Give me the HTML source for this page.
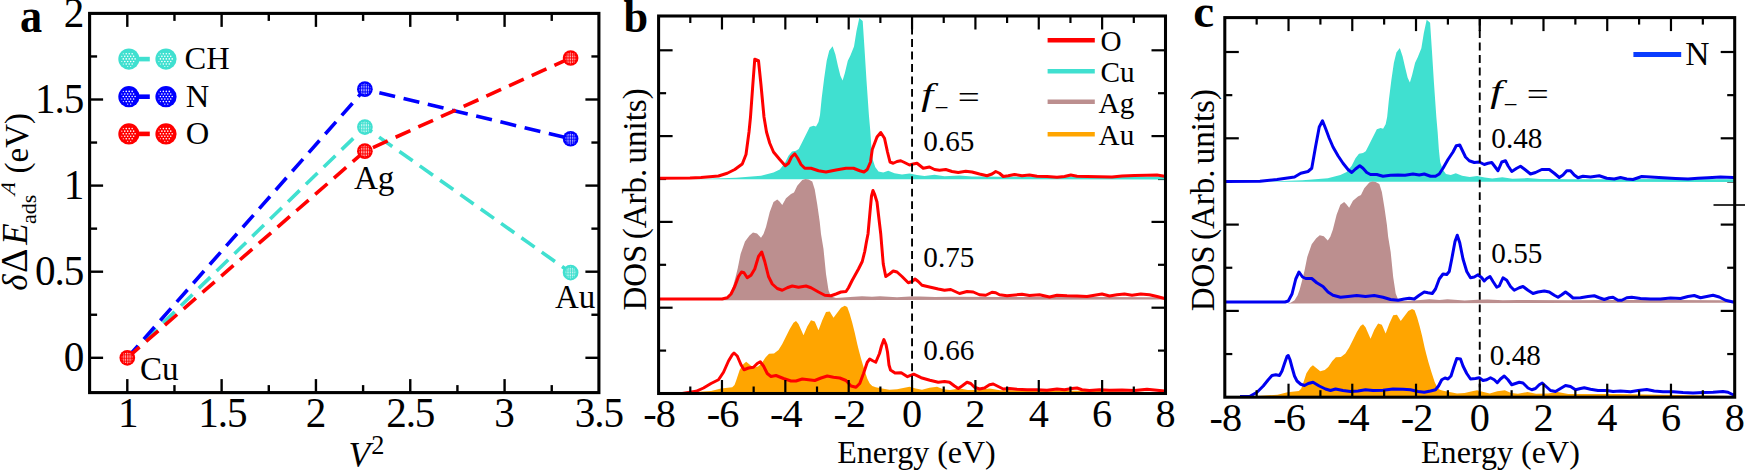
<!DOCTYPE html>
<html lang="en"><head><meta charset="utf-8"><title>Figure: adsorption energy shifts and projected DOS</title>
<style>html,body{margin:0;padding:0;background:#fff}body{width:1745px;height:470px;overflow:hidden}svg{display:block}text{font-family:"Liberation Serif","Times New Roman",Times,serif;fill:#000}</style></head><body>
<svg width="1745" height="470" viewBox="0 0 1745 470">
<rect width="1745" height="470" fill="#fff"/>
<g id="panel-a">
<polyline points="127.3,357.8 364.89,127.05 570.6,272.56" fill="none" stroke="#40E0D0" stroke-width="3.6" stroke-dasharray="16.2 8.7" stroke-dashoffset="0"/>
<polyline points="127.3,357.8 364.89,89.17 570.6,138.76" fill="none" stroke="#0000FF" stroke-width="3.6" stroke-dasharray="16.2 8.7" stroke-dashoffset="0"/>
<polyline points="127.3,357.8 364.89,151.16 570.6,58" fill="none" stroke="#FF0000" stroke-width="3.6" stroke-dasharray="16.2 8.7" stroke-dashoffset="0"/>
<circle cx="364.89" cy="127.05" r="7.85" fill="#40E0D0"/>
<g transform="translate(364.89 127.05)" fill="#fff" fill-opacity="0.95"><circle cx="0" cy="-5.8" r="0.35"/><circle cx="-3.5" cy="-4.35" r="0.35"/><circle cx="-1.75" cy="-4.35" r="0.5"/><circle cx="0" cy="-4.35" r="0.5"/><circle cx="1.75" cy="-4.35" r="0.5"/><circle cx="3.5" cy="-4.35" r="0.35"/><circle cx="-3.5" cy="-2.9" r="0.5"/><circle cx="-1.75" cy="-2.9" r="0.5"/><circle cx="0" cy="-2.9" r="0.5"/><circle cx="1.75" cy="-2.9" r="0.5"/><circle cx="3.5" cy="-2.9" r="0.5"/><circle cx="-5.25" cy="-1.45" r="0.35"/><circle cx="-3.5" cy="-1.45" r="0.5"/><circle cx="-1.75" cy="-1.45" r="0.5"/><circle cx="0" cy="-1.45" r="0.5"/><circle cx="1.75" cy="-1.45" r="0.5"/><circle cx="3.5" cy="-1.45" r="0.5"/><circle cx="5.25" cy="-1.45" r="0.35"/><circle cx="-5.25" cy="0" r="0.35"/><circle cx="-3.5" cy="0" r="0.5"/><circle cx="-1.75" cy="0" r="0.5"/><circle cx="0" cy="0" r="0.5"/><circle cx="1.75" cy="0" r="0.5"/><circle cx="3.5" cy="0" r="0.5"/><circle cx="5.25" cy="0" r="0.35"/><circle cx="-5.25" cy="1.45" r="0.35"/><circle cx="-3.5" cy="1.45" r="0.5"/><circle cx="-1.75" cy="1.45" r="0.5"/><circle cx="0" cy="1.45" r="0.5"/><circle cx="1.75" cy="1.45" r="0.5"/><circle cx="3.5" cy="1.45" r="0.5"/><circle cx="5.25" cy="1.45" r="0.35"/><circle cx="-3.5" cy="2.9" r="0.5"/><circle cx="-1.75" cy="2.9" r="0.5"/><circle cx="0" cy="2.9" r="0.5"/><circle cx="1.75" cy="2.9" r="0.5"/><circle cx="3.5" cy="2.9" r="0.5"/><circle cx="-3.5" cy="4.35" r="0.35"/><circle cx="-1.75" cy="4.35" r="0.5"/><circle cx="0" cy="4.35" r="0.5"/><circle cx="1.75" cy="4.35" r="0.5"/><circle cx="3.5" cy="4.35" r="0.35"/><circle cx="0" cy="5.8" r="0.35"/></g>
<circle cx="570.6" cy="272.56" r="7.85" fill="#40E0D0"/>
<g transform="translate(570.6 272.56)" fill="#fff" fill-opacity="0.95"><circle cx="0" cy="-5.8" r="0.35"/><circle cx="-3.5" cy="-4.35" r="0.35"/><circle cx="-1.75" cy="-4.35" r="0.5"/><circle cx="0" cy="-4.35" r="0.5"/><circle cx="1.75" cy="-4.35" r="0.5"/><circle cx="3.5" cy="-4.35" r="0.35"/><circle cx="-3.5" cy="-2.9" r="0.5"/><circle cx="-1.75" cy="-2.9" r="0.5"/><circle cx="0" cy="-2.9" r="0.5"/><circle cx="1.75" cy="-2.9" r="0.5"/><circle cx="3.5" cy="-2.9" r="0.5"/><circle cx="-5.25" cy="-1.45" r="0.35"/><circle cx="-3.5" cy="-1.45" r="0.5"/><circle cx="-1.75" cy="-1.45" r="0.5"/><circle cx="0" cy="-1.45" r="0.5"/><circle cx="1.75" cy="-1.45" r="0.5"/><circle cx="3.5" cy="-1.45" r="0.5"/><circle cx="5.25" cy="-1.45" r="0.35"/><circle cx="-5.25" cy="0" r="0.35"/><circle cx="-3.5" cy="0" r="0.5"/><circle cx="-1.75" cy="0" r="0.5"/><circle cx="0" cy="0" r="0.5"/><circle cx="1.75" cy="0" r="0.5"/><circle cx="3.5" cy="0" r="0.5"/><circle cx="5.25" cy="0" r="0.35"/><circle cx="-5.25" cy="1.45" r="0.35"/><circle cx="-3.5" cy="1.45" r="0.5"/><circle cx="-1.75" cy="1.45" r="0.5"/><circle cx="0" cy="1.45" r="0.5"/><circle cx="1.75" cy="1.45" r="0.5"/><circle cx="3.5" cy="1.45" r="0.5"/><circle cx="5.25" cy="1.45" r="0.35"/><circle cx="-3.5" cy="2.9" r="0.5"/><circle cx="-1.75" cy="2.9" r="0.5"/><circle cx="0" cy="2.9" r="0.5"/><circle cx="1.75" cy="2.9" r="0.5"/><circle cx="3.5" cy="2.9" r="0.5"/><circle cx="-3.5" cy="4.35" r="0.35"/><circle cx="-1.75" cy="4.35" r="0.5"/><circle cx="0" cy="4.35" r="0.5"/><circle cx="1.75" cy="4.35" r="0.5"/><circle cx="3.5" cy="4.35" r="0.35"/><circle cx="0" cy="5.8" r="0.35"/></g>
<circle cx="364.89" cy="89.17" r="7.85" fill="#0000FF"/>
<g transform="translate(364.89 89.17)" fill="#fff" fill-opacity="0.95"><circle cx="0" cy="-5.8" r="0.35"/><circle cx="-3.5" cy="-4.35" r="0.35"/><circle cx="-1.75" cy="-4.35" r="0.5"/><circle cx="0" cy="-4.35" r="0.5"/><circle cx="1.75" cy="-4.35" r="0.5"/><circle cx="3.5" cy="-4.35" r="0.35"/><circle cx="-3.5" cy="-2.9" r="0.5"/><circle cx="-1.75" cy="-2.9" r="0.5"/><circle cx="0" cy="-2.9" r="0.5"/><circle cx="1.75" cy="-2.9" r="0.5"/><circle cx="3.5" cy="-2.9" r="0.5"/><circle cx="-5.25" cy="-1.45" r="0.35"/><circle cx="-3.5" cy="-1.45" r="0.5"/><circle cx="-1.75" cy="-1.45" r="0.5"/><circle cx="0" cy="-1.45" r="0.5"/><circle cx="1.75" cy="-1.45" r="0.5"/><circle cx="3.5" cy="-1.45" r="0.5"/><circle cx="5.25" cy="-1.45" r="0.35"/><circle cx="-5.25" cy="0" r="0.35"/><circle cx="-3.5" cy="0" r="0.5"/><circle cx="-1.75" cy="0" r="0.5"/><circle cx="0" cy="0" r="0.5"/><circle cx="1.75" cy="0" r="0.5"/><circle cx="3.5" cy="0" r="0.5"/><circle cx="5.25" cy="0" r="0.35"/><circle cx="-5.25" cy="1.45" r="0.35"/><circle cx="-3.5" cy="1.45" r="0.5"/><circle cx="-1.75" cy="1.45" r="0.5"/><circle cx="0" cy="1.45" r="0.5"/><circle cx="1.75" cy="1.45" r="0.5"/><circle cx="3.5" cy="1.45" r="0.5"/><circle cx="5.25" cy="1.45" r="0.35"/><circle cx="-3.5" cy="2.9" r="0.5"/><circle cx="-1.75" cy="2.9" r="0.5"/><circle cx="0" cy="2.9" r="0.5"/><circle cx="1.75" cy="2.9" r="0.5"/><circle cx="3.5" cy="2.9" r="0.5"/><circle cx="-3.5" cy="4.35" r="0.35"/><circle cx="-1.75" cy="4.35" r="0.5"/><circle cx="0" cy="4.35" r="0.5"/><circle cx="1.75" cy="4.35" r="0.5"/><circle cx="3.5" cy="4.35" r="0.35"/><circle cx="0" cy="5.8" r="0.35"/></g>
<circle cx="570.6" cy="138.76" r="7.85" fill="#0000FF"/>
<g transform="translate(570.6 138.76)" fill="#fff" fill-opacity="0.95"><circle cx="0" cy="-5.8" r="0.35"/><circle cx="-3.5" cy="-4.35" r="0.35"/><circle cx="-1.75" cy="-4.35" r="0.5"/><circle cx="0" cy="-4.35" r="0.5"/><circle cx="1.75" cy="-4.35" r="0.5"/><circle cx="3.5" cy="-4.35" r="0.35"/><circle cx="-3.5" cy="-2.9" r="0.5"/><circle cx="-1.75" cy="-2.9" r="0.5"/><circle cx="0" cy="-2.9" r="0.5"/><circle cx="1.75" cy="-2.9" r="0.5"/><circle cx="3.5" cy="-2.9" r="0.5"/><circle cx="-5.25" cy="-1.45" r="0.35"/><circle cx="-3.5" cy="-1.45" r="0.5"/><circle cx="-1.75" cy="-1.45" r="0.5"/><circle cx="0" cy="-1.45" r="0.5"/><circle cx="1.75" cy="-1.45" r="0.5"/><circle cx="3.5" cy="-1.45" r="0.5"/><circle cx="5.25" cy="-1.45" r="0.35"/><circle cx="-5.25" cy="0" r="0.35"/><circle cx="-3.5" cy="0" r="0.5"/><circle cx="-1.75" cy="0" r="0.5"/><circle cx="0" cy="0" r="0.5"/><circle cx="1.75" cy="0" r="0.5"/><circle cx="3.5" cy="0" r="0.5"/><circle cx="5.25" cy="0" r="0.35"/><circle cx="-5.25" cy="1.45" r="0.35"/><circle cx="-3.5" cy="1.45" r="0.5"/><circle cx="-1.75" cy="1.45" r="0.5"/><circle cx="0" cy="1.45" r="0.5"/><circle cx="1.75" cy="1.45" r="0.5"/><circle cx="3.5" cy="1.45" r="0.5"/><circle cx="5.25" cy="1.45" r="0.35"/><circle cx="-3.5" cy="2.9" r="0.5"/><circle cx="-1.75" cy="2.9" r="0.5"/><circle cx="0" cy="2.9" r="0.5"/><circle cx="1.75" cy="2.9" r="0.5"/><circle cx="3.5" cy="2.9" r="0.5"/><circle cx="-3.5" cy="4.35" r="0.35"/><circle cx="-1.75" cy="4.35" r="0.5"/><circle cx="0" cy="4.35" r="0.5"/><circle cx="1.75" cy="4.35" r="0.5"/><circle cx="3.5" cy="4.35" r="0.35"/><circle cx="0" cy="5.8" r="0.35"/></g>
<circle cx="127.3" cy="357.8" r="7.85" fill="#FF0000"/>
<g transform="translate(127.3 357.8)" fill="#fff" fill-opacity="0.95"><circle cx="0" cy="-5.8" r="0.35"/><circle cx="-3.5" cy="-4.35" r="0.35"/><circle cx="-1.75" cy="-4.35" r="0.5"/><circle cx="0" cy="-4.35" r="0.5"/><circle cx="1.75" cy="-4.35" r="0.5"/><circle cx="3.5" cy="-4.35" r="0.35"/><circle cx="-3.5" cy="-2.9" r="0.5"/><circle cx="-1.75" cy="-2.9" r="0.5"/><circle cx="0" cy="-2.9" r="0.5"/><circle cx="1.75" cy="-2.9" r="0.5"/><circle cx="3.5" cy="-2.9" r="0.5"/><circle cx="-5.25" cy="-1.45" r="0.35"/><circle cx="-3.5" cy="-1.45" r="0.5"/><circle cx="-1.75" cy="-1.45" r="0.5"/><circle cx="0" cy="-1.45" r="0.5"/><circle cx="1.75" cy="-1.45" r="0.5"/><circle cx="3.5" cy="-1.45" r="0.5"/><circle cx="5.25" cy="-1.45" r="0.35"/><circle cx="-5.25" cy="0" r="0.35"/><circle cx="-3.5" cy="0" r="0.5"/><circle cx="-1.75" cy="0" r="0.5"/><circle cx="0" cy="0" r="0.5"/><circle cx="1.75" cy="0" r="0.5"/><circle cx="3.5" cy="0" r="0.5"/><circle cx="5.25" cy="0" r="0.35"/><circle cx="-5.25" cy="1.45" r="0.35"/><circle cx="-3.5" cy="1.45" r="0.5"/><circle cx="-1.75" cy="1.45" r="0.5"/><circle cx="0" cy="1.45" r="0.5"/><circle cx="1.75" cy="1.45" r="0.5"/><circle cx="3.5" cy="1.45" r="0.5"/><circle cx="5.25" cy="1.45" r="0.35"/><circle cx="-3.5" cy="2.9" r="0.5"/><circle cx="-1.75" cy="2.9" r="0.5"/><circle cx="0" cy="2.9" r="0.5"/><circle cx="1.75" cy="2.9" r="0.5"/><circle cx="3.5" cy="2.9" r="0.5"/><circle cx="-3.5" cy="4.35" r="0.35"/><circle cx="-1.75" cy="4.35" r="0.5"/><circle cx="0" cy="4.35" r="0.5"/><circle cx="1.75" cy="4.35" r="0.5"/><circle cx="3.5" cy="4.35" r="0.35"/><circle cx="0" cy="5.8" r="0.35"/></g>
<circle cx="364.89" cy="151.16" r="7.85" fill="#FF0000"/>
<g transform="translate(364.89 151.16)" fill="#fff" fill-opacity="0.95"><circle cx="0" cy="-5.8" r="0.35"/><circle cx="-3.5" cy="-4.35" r="0.35"/><circle cx="-1.75" cy="-4.35" r="0.5"/><circle cx="0" cy="-4.35" r="0.5"/><circle cx="1.75" cy="-4.35" r="0.5"/><circle cx="3.5" cy="-4.35" r="0.35"/><circle cx="-3.5" cy="-2.9" r="0.5"/><circle cx="-1.75" cy="-2.9" r="0.5"/><circle cx="0" cy="-2.9" r="0.5"/><circle cx="1.75" cy="-2.9" r="0.5"/><circle cx="3.5" cy="-2.9" r="0.5"/><circle cx="-5.25" cy="-1.45" r="0.35"/><circle cx="-3.5" cy="-1.45" r="0.5"/><circle cx="-1.75" cy="-1.45" r="0.5"/><circle cx="0" cy="-1.45" r="0.5"/><circle cx="1.75" cy="-1.45" r="0.5"/><circle cx="3.5" cy="-1.45" r="0.5"/><circle cx="5.25" cy="-1.45" r="0.35"/><circle cx="-5.25" cy="0" r="0.35"/><circle cx="-3.5" cy="0" r="0.5"/><circle cx="-1.75" cy="0" r="0.5"/><circle cx="0" cy="0" r="0.5"/><circle cx="1.75" cy="0" r="0.5"/><circle cx="3.5" cy="0" r="0.5"/><circle cx="5.25" cy="0" r="0.35"/><circle cx="-5.25" cy="1.45" r="0.35"/><circle cx="-3.5" cy="1.45" r="0.5"/><circle cx="-1.75" cy="1.45" r="0.5"/><circle cx="0" cy="1.45" r="0.5"/><circle cx="1.75" cy="1.45" r="0.5"/><circle cx="3.5" cy="1.45" r="0.5"/><circle cx="5.25" cy="1.45" r="0.35"/><circle cx="-3.5" cy="2.9" r="0.5"/><circle cx="-1.75" cy="2.9" r="0.5"/><circle cx="0" cy="2.9" r="0.5"/><circle cx="1.75" cy="2.9" r="0.5"/><circle cx="3.5" cy="2.9" r="0.5"/><circle cx="-3.5" cy="4.35" r="0.35"/><circle cx="-1.75" cy="4.35" r="0.5"/><circle cx="0" cy="4.35" r="0.5"/><circle cx="1.75" cy="4.35" r="0.5"/><circle cx="3.5" cy="4.35" r="0.35"/><circle cx="0" cy="5.8" r="0.35"/></g>
<circle cx="570.6" cy="58" r="7.85" fill="#FF0000"/>
<g transform="translate(570.6 58)" fill="#fff" fill-opacity="0.95"><circle cx="0" cy="-5.8" r="0.35"/><circle cx="-3.5" cy="-4.35" r="0.35"/><circle cx="-1.75" cy="-4.35" r="0.5"/><circle cx="0" cy="-4.35" r="0.5"/><circle cx="1.75" cy="-4.35" r="0.5"/><circle cx="3.5" cy="-4.35" r="0.35"/><circle cx="-3.5" cy="-2.9" r="0.5"/><circle cx="-1.75" cy="-2.9" r="0.5"/><circle cx="0" cy="-2.9" r="0.5"/><circle cx="1.75" cy="-2.9" r="0.5"/><circle cx="3.5" cy="-2.9" r="0.5"/><circle cx="-5.25" cy="-1.45" r="0.35"/><circle cx="-3.5" cy="-1.45" r="0.5"/><circle cx="-1.75" cy="-1.45" r="0.5"/><circle cx="0" cy="-1.45" r="0.5"/><circle cx="1.75" cy="-1.45" r="0.5"/><circle cx="3.5" cy="-1.45" r="0.5"/><circle cx="5.25" cy="-1.45" r="0.35"/><circle cx="-5.25" cy="0" r="0.35"/><circle cx="-3.5" cy="0" r="0.5"/><circle cx="-1.75" cy="0" r="0.5"/><circle cx="0" cy="0" r="0.5"/><circle cx="1.75" cy="0" r="0.5"/><circle cx="3.5" cy="0" r="0.5"/><circle cx="5.25" cy="0" r="0.35"/><circle cx="-5.25" cy="1.45" r="0.35"/><circle cx="-3.5" cy="1.45" r="0.5"/><circle cx="-1.75" cy="1.45" r="0.5"/><circle cx="0" cy="1.45" r="0.5"/><circle cx="1.75" cy="1.45" r="0.5"/><circle cx="3.5" cy="1.45" r="0.5"/><circle cx="5.25" cy="1.45" r="0.35"/><circle cx="-3.5" cy="2.9" r="0.5"/><circle cx="-1.75" cy="2.9" r="0.5"/><circle cx="0" cy="2.9" r="0.5"/><circle cx="1.75" cy="2.9" r="0.5"/><circle cx="3.5" cy="2.9" r="0.5"/><circle cx="-3.5" cy="4.35" r="0.35"/><circle cx="-1.75" cy="4.35" r="0.5"/><circle cx="0" cy="4.35" r="0.5"/><circle cx="1.75" cy="4.35" r="0.5"/><circle cx="3.5" cy="4.35" r="0.35"/><circle cx="0" cy="5.8" r="0.35"/></g>
<rect x="89.6" y="13.4" width="509.3" height="379.2" fill="none" stroke="#000" stroke-width="3.1"/>
<line x1="127.3" y1="392.6" x2="127.3" y2="379.1" stroke="#000" stroke-width="2.4" />
<line x1="127.3" y1="13.4" x2="127.3" y2="26.9" stroke="#000" stroke-width="2.4" />
<line x1="174.46" y1="392.6" x2="174.46" y2="385.1" stroke="#000" stroke-width="2.4" />
<line x1="174.46" y1="13.4" x2="174.46" y2="20.9" stroke="#000" stroke-width="2.4" />
<line x1="221.62" y1="392.6" x2="221.62" y2="379.1" stroke="#000" stroke-width="2.4" />
<line x1="221.62" y1="13.4" x2="221.62" y2="26.9" stroke="#000" stroke-width="2.4" />
<line x1="268.78" y1="392.6" x2="268.78" y2="385.1" stroke="#000" stroke-width="2.4" />
<line x1="268.78" y1="13.4" x2="268.78" y2="20.9" stroke="#000" stroke-width="2.4" />
<line x1="315.94" y1="392.6" x2="315.94" y2="379.1" stroke="#000" stroke-width="2.4" />
<line x1="315.94" y1="13.4" x2="315.94" y2="26.9" stroke="#000" stroke-width="2.4" />
<line x1="363.1" y1="392.6" x2="363.1" y2="385.1" stroke="#000" stroke-width="2.4" />
<line x1="363.1" y1="13.4" x2="363.1" y2="20.9" stroke="#000" stroke-width="2.4" />
<line x1="410.26" y1="392.6" x2="410.26" y2="379.1" stroke="#000" stroke-width="2.4" />
<line x1="410.26" y1="13.4" x2="410.26" y2="26.9" stroke="#000" stroke-width="2.4" />
<line x1="457.42" y1="392.6" x2="457.42" y2="385.1" stroke="#000" stroke-width="2.4" />
<line x1="457.42" y1="13.4" x2="457.42" y2="20.9" stroke="#000" stroke-width="2.4" />
<line x1="504.58" y1="392.6" x2="504.58" y2="379.1" stroke="#000" stroke-width="2.4" />
<line x1="504.58" y1="13.4" x2="504.58" y2="26.9" stroke="#000" stroke-width="2.4" />
<line x1="551.74" y1="392.6" x2="551.74" y2="385.1" stroke="#000" stroke-width="2.4" />
<line x1="551.74" y1="13.4" x2="551.74" y2="20.9" stroke="#000" stroke-width="2.4" />
<line x1="89.6" y1="357.8" x2="103.1" y2="357.8" stroke="#000" stroke-width="2.4" />
<line x1="598.9" y1="357.8" x2="585.4" y2="357.8" stroke="#000" stroke-width="2.4" />
<line x1="89.6" y1="314.75" x2="97.1" y2="314.75" stroke="#000" stroke-width="2.4" />
<line x1="598.9" y1="314.75" x2="591.4" y2="314.75" stroke="#000" stroke-width="2.4" />
<line x1="89.6" y1="271.7" x2="103.1" y2="271.7" stroke="#000" stroke-width="2.4" />
<line x1="598.9" y1="271.7" x2="585.4" y2="271.7" stroke="#000" stroke-width="2.4" />
<line x1="89.6" y1="228.65" x2="97.1" y2="228.65" stroke="#000" stroke-width="2.4" />
<line x1="598.9" y1="228.65" x2="591.4" y2="228.65" stroke="#000" stroke-width="2.4" />
<line x1="89.6" y1="185.6" x2="103.1" y2="185.6" stroke="#000" stroke-width="2.4" />
<line x1="598.9" y1="185.6" x2="585.4" y2="185.6" stroke="#000" stroke-width="2.4" />
<line x1="89.6" y1="142.55" x2="97.1" y2="142.55" stroke="#000" stroke-width="2.4" />
<line x1="598.9" y1="142.55" x2="591.4" y2="142.55" stroke="#000" stroke-width="2.4" />
<line x1="89.6" y1="99.5" x2="103.1" y2="99.5" stroke="#000" stroke-width="2.4" />
<line x1="598.9" y1="99.5" x2="585.4" y2="99.5" stroke="#000" stroke-width="2.4" />
<line x1="89.6" y1="56.45" x2="97.1" y2="56.45" stroke="#000" stroke-width="2.4" />
<line x1="598.9" y1="56.45" x2="591.4" y2="56.45" stroke="#000" stroke-width="2.4" />
<text x="128.3" y="426.8" font-size="41.2" text-anchor="middle"  >1</text>
<text x="222.42" y="426.8" font-size="41.2" text-anchor="middle" style="letter-spacing:-1.1px" >1.5</text>
<text x="315.94" y="426.8" font-size="41.2" text-anchor="middle"  >2</text>
<text x="410.26" y="426.8" font-size="41.2" text-anchor="middle" style="letter-spacing:-1.1px" >2.5</text>
<text x="504.58" y="426.8" font-size="41.2" text-anchor="middle"  >3</text>
<text x="598.9" y="426.8" font-size="41.2" text-anchor="middle" style="letter-spacing:-1.1px" >3.5</text>
<text x="84.4" y="371.2" font-size="41.2" text-anchor="end"  >0</text>
<text x="83.3" y="285.1" font-size="41.2" text-anchor="end" style="letter-spacing:-1.1px" >0.5</text>
<text x="84.4" y="199" font-size="41.2" text-anchor="end"  >1</text>
<text x="83.3" y="112.9" font-size="41.2" text-anchor="end" style="letter-spacing:-1.1px" >1.5</text>
<text x="84.4" y="26.8" font-size="41.2" text-anchor="end"  >2</text>
<text x="139.9" y="380.4" font-size="33" text-anchor="start"  >Cu</text>
<text x="353.9" y="188.6" font-size="33.2" text-anchor="start"  >Ag</text>
<text x="555" y="308" font-size="33" text-anchor="start"  >Au</text>
<line x1="128.9" y1="59.1" x2="149.8" y2="59.1" stroke="#40E0D0" stroke-width="4.6" />
<circle cx="128.9" cy="59.1" r="10.6" fill="#40E0D0"/>
<g transform="translate(128.9 59.1)" fill="#fff"><circle cx="-5.6" cy="-5.3" r="0.56"/><circle cx="-2.65" cy="-5.3" r="0.8"/><circle cx="0.3" cy="-5.3" r="0.8"/><circle cx="3.25" cy="-5.3" r="0.8"/><circle cx="-7.08" cy="-2.75" r="0.56"/><circle cx="-4.12" cy="-2.75" r="0.8"/><circle cx="-1.18" cy="-2.75" r="0.8"/><circle cx="1.78" cy="-2.75" r="0.8"/><circle cx="4.72" cy="-2.75" r="0.8"/><circle cx="-5.6" cy="-0.2" r="0.8"/><circle cx="-2.65" cy="-0.2" r="0.8"/><circle cx="0.3" cy="-0.2" r="0.8"/><circle cx="3.25" cy="-0.2" r="0.8"/><circle cx="6.2" cy="-0.2" r="0.8"/><circle cx="-7.08" cy="2.35" r="0.56"/><circle cx="-4.12" cy="2.35" r="0.8"/><circle cx="-1.18" cy="2.35" r="0.8"/><circle cx="1.78" cy="2.35" r="0.8"/><circle cx="4.72" cy="2.35" r="0.8"/><circle cx="-5.6" cy="4.9" r="0.56"/><circle cx="-2.65" cy="4.9" r="0.8"/><circle cx="0.3" cy="4.9" r="0.8"/><circle cx="3.25" cy="4.9" r="0.8"/><circle cx="-1.18" cy="7.45" r="0.56"/><circle cx="1.78" cy="7.45" r="0.56"/></g>
<circle cx="166" cy="59.1" r="10.6" fill="#40E0D0"/>
<g transform="translate(166 59.1)" fill="#fff"><circle cx="-5.6" cy="-5.3" r="0.56"/><circle cx="-2.65" cy="-5.3" r="0.8"/><circle cx="0.3" cy="-5.3" r="0.8"/><circle cx="3.25" cy="-5.3" r="0.8"/><circle cx="-7.08" cy="-2.75" r="0.56"/><circle cx="-4.12" cy="-2.75" r="0.8"/><circle cx="-1.18" cy="-2.75" r="0.8"/><circle cx="1.78" cy="-2.75" r="0.8"/><circle cx="4.72" cy="-2.75" r="0.8"/><circle cx="-5.6" cy="-0.2" r="0.8"/><circle cx="-2.65" cy="-0.2" r="0.8"/><circle cx="0.3" cy="-0.2" r="0.8"/><circle cx="3.25" cy="-0.2" r="0.8"/><circle cx="6.2" cy="-0.2" r="0.8"/><circle cx="-7.08" cy="2.35" r="0.56"/><circle cx="-4.12" cy="2.35" r="0.8"/><circle cx="-1.18" cy="2.35" r="0.8"/><circle cx="1.78" cy="2.35" r="0.8"/><circle cx="4.72" cy="2.35" r="0.8"/><circle cx="-5.6" cy="4.9" r="0.56"/><circle cx="-2.65" cy="4.9" r="0.8"/><circle cx="0.3" cy="4.9" r="0.8"/><circle cx="3.25" cy="4.9" r="0.8"/><circle cx="-1.18" cy="7.45" r="0.56"/><circle cx="1.78" cy="7.45" r="0.56"/></g>
<text x="184.6" y="68.9" font-size="32.6" text-anchor="start"  >CH</text>
<line x1="128.9" y1="96.7" x2="149.8" y2="96.7" stroke="#0000FF" stroke-width="4.6" />
<circle cx="128.9" cy="96.7" r="10.6" fill="#0000FF"/>
<g transform="translate(128.9 96.7)" fill="#fff"><circle cx="-5.6" cy="-5.3" r="0.56"/><circle cx="-2.65" cy="-5.3" r="0.8"/><circle cx="0.3" cy="-5.3" r="0.8"/><circle cx="3.25" cy="-5.3" r="0.8"/><circle cx="-7.08" cy="-2.75" r="0.56"/><circle cx="-4.12" cy="-2.75" r="0.8"/><circle cx="-1.18" cy="-2.75" r="0.8"/><circle cx="1.78" cy="-2.75" r="0.8"/><circle cx="4.72" cy="-2.75" r="0.8"/><circle cx="-5.6" cy="-0.2" r="0.8"/><circle cx="-2.65" cy="-0.2" r="0.8"/><circle cx="0.3" cy="-0.2" r="0.8"/><circle cx="3.25" cy="-0.2" r="0.8"/><circle cx="6.2" cy="-0.2" r="0.8"/><circle cx="-7.08" cy="2.35" r="0.56"/><circle cx="-4.12" cy="2.35" r="0.8"/><circle cx="-1.18" cy="2.35" r="0.8"/><circle cx="1.78" cy="2.35" r="0.8"/><circle cx="4.72" cy="2.35" r="0.8"/><circle cx="-5.6" cy="4.9" r="0.56"/><circle cx="-2.65" cy="4.9" r="0.8"/><circle cx="0.3" cy="4.9" r="0.8"/><circle cx="3.25" cy="4.9" r="0.8"/><circle cx="-1.18" cy="7.45" r="0.56"/><circle cx="1.78" cy="7.45" r="0.56"/></g>
<circle cx="166" cy="96.7" r="10.6" fill="#0000FF"/>
<g transform="translate(166 96.7)" fill="#fff"><circle cx="-5.6" cy="-5.3" r="0.56"/><circle cx="-2.65" cy="-5.3" r="0.8"/><circle cx="0.3" cy="-5.3" r="0.8"/><circle cx="3.25" cy="-5.3" r="0.8"/><circle cx="-7.08" cy="-2.75" r="0.56"/><circle cx="-4.12" cy="-2.75" r="0.8"/><circle cx="-1.18" cy="-2.75" r="0.8"/><circle cx="1.78" cy="-2.75" r="0.8"/><circle cx="4.72" cy="-2.75" r="0.8"/><circle cx="-5.6" cy="-0.2" r="0.8"/><circle cx="-2.65" cy="-0.2" r="0.8"/><circle cx="0.3" cy="-0.2" r="0.8"/><circle cx="3.25" cy="-0.2" r="0.8"/><circle cx="6.2" cy="-0.2" r="0.8"/><circle cx="-7.08" cy="2.35" r="0.56"/><circle cx="-4.12" cy="2.35" r="0.8"/><circle cx="-1.18" cy="2.35" r="0.8"/><circle cx="1.78" cy="2.35" r="0.8"/><circle cx="4.72" cy="2.35" r="0.8"/><circle cx="-5.6" cy="4.9" r="0.56"/><circle cx="-2.65" cy="4.9" r="0.8"/><circle cx="0.3" cy="4.9" r="0.8"/><circle cx="3.25" cy="4.9" r="0.8"/><circle cx="-1.18" cy="7.45" r="0.56"/><circle cx="1.78" cy="7.45" r="0.56"/></g>
<text x="185.8" y="106.5" font-size="32.6" text-anchor="start"  >N</text>
<line x1="128.9" y1="133.9" x2="149.8" y2="133.9" stroke="#FF0000" stroke-width="4.6" />
<circle cx="128.9" cy="133.9" r="10.6" fill="#FF0000"/>
<g transform="translate(128.9 133.9)" fill="#fff"><circle cx="-5.6" cy="-5.3" r="0.56"/><circle cx="-2.65" cy="-5.3" r="0.8"/><circle cx="0.3" cy="-5.3" r="0.8"/><circle cx="3.25" cy="-5.3" r="0.8"/><circle cx="-7.08" cy="-2.75" r="0.56"/><circle cx="-4.12" cy="-2.75" r="0.8"/><circle cx="-1.18" cy="-2.75" r="0.8"/><circle cx="1.78" cy="-2.75" r="0.8"/><circle cx="4.72" cy="-2.75" r="0.8"/><circle cx="-5.6" cy="-0.2" r="0.8"/><circle cx="-2.65" cy="-0.2" r="0.8"/><circle cx="0.3" cy="-0.2" r="0.8"/><circle cx="3.25" cy="-0.2" r="0.8"/><circle cx="6.2" cy="-0.2" r="0.8"/><circle cx="-7.08" cy="2.35" r="0.56"/><circle cx="-4.12" cy="2.35" r="0.8"/><circle cx="-1.18" cy="2.35" r="0.8"/><circle cx="1.78" cy="2.35" r="0.8"/><circle cx="4.72" cy="2.35" r="0.8"/><circle cx="-5.6" cy="4.9" r="0.56"/><circle cx="-2.65" cy="4.9" r="0.8"/><circle cx="0.3" cy="4.9" r="0.8"/><circle cx="3.25" cy="4.9" r="0.8"/><circle cx="-1.18" cy="7.45" r="0.56"/><circle cx="1.78" cy="7.45" r="0.56"/></g>
<circle cx="166" cy="133.9" r="10.6" fill="#FF0000"/>
<g transform="translate(166 133.9)" fill="#fff"><circle cx="-5.6" cy="-5.3" r="0.56"/><circle cx="-2.65" cy="-5.3" r="0.8"/><circle cx="0.3" cy="-5.3" r="0.8"/><circle cx="3.25" cy="-5.3" r="0.8"/><circle cx="-7.08" cy="-2.75" r="0.56"/><circle cx="-4.12" cy="-2.75" r="0.8"/><circle cx="-1.18" cy="-2.75" r="0.8"/><circle cx="1.78" cy="-2.75" r="0.8"/><circle cx="4.72" cy="-2.75" r="0.8"/><circle cx="-5.6" cy="-0.2" r="0.8"/><circle cx="-2.65" cy="-0.2" r="0.8"/><circle cx="0.3" cy="-0.2" r="0.8"/><circle cx="3.25" cy="-0.2" r="0.8"/><circle cx="6.2" cy="-0.2" r="0.8"/><circle cx="-7.08" cy="2.35" r="0.56"/><circle cx="-4.12" cy="2.35" r="0.8"/><circle cx="-1.18" cy="2.35" r="0.8"/><circle cx="1.78" cy="2.35" r="0.8"/><circle cx="4.72" cy="2.35" r="0.8"/><circle cx="-5.6" cy="4.9" r="0.56"/><circle cx="-2.65" cy="4.9" r="0.8"/><circle cx="0.3" cy="4.9" r="0.8"/><circle cx="3.25" cy="4.9" r="0.8"/><circle cx="-1.18" cy="7.45" r="0.56"/><circle cx="1.78" cy="7.45" r="0.56"/></g>
<text x="185.8" y="143.7" font-size="32.6" text-anchor="start"  >O</text>
<text transform="translate(19.9 31.8) scale(1 1.09)" font-size="44.3" style="font-weight:bold">a</text>
<text x="348.4" y="467.2" font-size="35.4" style="font-style:italic">V</text><text x="371.3" y="453.8" font-size="26.3">2</text>
<text transform="translate(27.2 290.8) rotate(-90)" font-size="35" style="font-style:italic">δ</text>
<text transform="translate(27 273) rotate(-90)" font-size="38" >Δ</text>
<text transform="translate(27.2 244.8) rotate(-90)" font-size="35" style="font-style:italic">E</text>
<text transform="translate(35.5 224) rotate(-90)" font-size="22" >ads</text>
<text transform="translate(14.9 195.5) rotate(-90) skewX(-12)" font-size="20.5" style="font-style:italic">A</text>
<text transform="translate(28.1 173.5) rotate(-90)" font-size="33" >(eV)</text>
</g>
<g id="panel-b">
<clipPath id="clipb"><rect x="658.6" y="16" width="506.9" height="377.5"/></clipPath>
<line x1="658.6" y1="50.3" x2="672.6" y2="50.3" stroke="#000" stroke-width="2.2" />
<line x1="1165.5" y1="50.3" x2="1151.5" y2="50.3" stroke="#000" stroke-width="2.2" />
<line x1="658.6" y1="93.2" x2="666.1" y2="93.2" stroke="#000" stroke-width="2.2" />
<line x1="1165.5" y1="93.2" x2="1158" y2="93.2" stroke="#000" stroke-width="2.2" />
<line x1="658.6" y1="136.1" x2="672.6" y2="136.1" stroke="#000" stroke-width="2.2" />
<line x1="1165.5" y1="136.1" x2="1151.5" y2="136.1" stroke="#000" stroke-width="2.2" />
<line x1="658.6" y1="179" x2="666.1" y2="179" stroke="#000" stroke-width="2.2" />
<line x1="1165.5" y1="179" x2="1158" y2="179" stroke="#000" stroke-width="2.2" />
<line x1="658.6" y1="221.9" x2="672.6" y2="221.9" stroke="#000" stroke-width="2.2" />
<line x1="1165.5" y1="221.9" x2="1151.5" y2="221.9" stroke="#000" stroke-width="2.2" />
<line x1="658.6" y1="264.8" x2="666.1" y2="264.8" stroke="#000" stroke-width="2.2" />
<line x1="1165.5" y1="264.8" x2="1158" y2="264.8" stroke="#000" stroke-width="2.2" />
<line x1="658.6" y1="307.7" x2="672.6" y2="307.7" stroke="#000" stroke-width="2.2" />
<line x1="1165.5" y1="307.7" x2="1151.5" y2="307.7" stroke="#000" stroke-width="2.2" />
<line x1="658.6" y1="350.6" x2="666.1" y2="350.6" stroke="#000" stroke-width="2.2" />
<line x1="1165.5" y1="350.6" x2="1158" y2="350.6" stroke="#000" stroke-width="2.2" />
<g clip-path="url(#clipb)">
<polygon points="690,179.3 700,179 736,177.75 761,175.75 773.5,172.5 779.75,169.5 784.75,163.25 788.5,155.75 792,151.5 796,150.75 798.7,149 801,144.5 806,134.5 809.75,127 813.5,125.75 816,126.5 818.5,122 820,114.9 821.7,98 824.2,78.1 826.7,60.8 829.2,50.8 832.6,46.3 835.4,54.6 837.9,65.7 840.4,75.7 842.6,80.6 844.8,73.2 847.8,60.8 850.3,55.8 854,46.5 856.5,31 859.3,18.1 862.7,21.1 864.5,48.4 866.5,80.6 868.9,114.9 870.2,129.8 871.4,147.1 872.7,159.5 875.2,167 878.5,171.5 883.25,172.5 888.25,170.75 894.5,173.25 902,174.5 909.5,173.5 917,175 924.5,175.9 934.5,174.8 944.5,176.2 959.5,175.6 972,176.4 984.5,176.6 1000,176.8 1050,176.8 1100,176.6 1167,176.8 1167,179.4" fill="#40E0D0"/>
<polygon points="721,300.2 724,299.6 728,297 731,292 733,286.6 735.6,277 737.8,268 740.6,254 745,241.5 749.5,235.5 753,232.5 757,233.5 761,237.75 763.5,234 766,227 769.75,212 773.5,202 777.25,199.5 779.5,201.5 782.25,205 786,198.25 791,194 794,192.5 797.25,185.75 802.25,180 805.5,179 808.5,179.5 812.25,181.5 814.75,189.5 817.25,204.5 819.75,222 821,234 823.5,249 826,274 828.5,290.25 831,296.5 836,297.9 850,297 862,296.2 872,296.8 880,296.2 897,297.3 910,296.6 920,296.4 935,297 950,296.8 1000,297.1 1050,296.9 1100,296.9 1150,297.2 1167,297.6 1167,299.6" fill="#BC8F8F"/>
<polygon points="690,392.3 711,391 721,388.5 732.25,387.25 734.5,385 736,381 739.75,369.75 743.5,364 746.2,361.8 749.5,364.5 753.5,367.8 758,366.5 761.5,363.5 765.5,357.5 769,353.8 774,353.4 778.5,350 782.25,344 786,336.5 789.75,329 793.5,322.75 796,321 798.5,324 803.5,335.25 807.25,326.5 811,320.25 814.75,321.5 818.5,330.25 822.25,320.25 826,312 829.75,311.5 833.5,317.75 837.25,312.75 841,307.75 844.75,305.75 847.25,307 849.75,314 852.25,322.75 854.75,332.75 857.25,344 859,351 861,358.5 864,368.5 867.25,378.5 869.75,383.5 872.25,386 875.75,387.2 882,388.45 889.5,389.7 897,389.2 904.5,387.7 909.5,386.7 915.75,388.45 922,389.7 929.5,387.7 937,386.7 943.25,389.2 950,390 959.5,388.45 968,390 980,389.7 989.5,388.45 1000,390.2 1050,390.2 1167,392.3 1167,394 690,394" fill="#FFA500"/>
<polyline points="656,178.25 690,178.1 701,177.5 718.5,176 727.25,173.25 734.75,169.5 742.25,164 746,154.5 749,132 750.5,117 752.8,85 754.75,59.25 758.5,60.75 761,85 764,117 766.5,132 769.75,143.25 773.5,152 779.75,159.5 785.25,165.75 788.5,163.25 791.5,157 794.75,153.75 797.75,158.25 801,164.5 804.75,168.25 811,168.25 818.5,170.75 826,172 836,170 846,168.25 853.5,168.25 859.75,170.75 864,172 867.25,169.5 870.5,162 872.25,149.5 877,137 880.75,132.5 884.5,138.25 887.5,152 890,162 893.25,163.25 897,161.5 900.75,160.75 904.5,162.5 909.5,165 913.25,164 917,163.25 923.25,168.25 929.5,167 934.5,169.5 939.5,170.25 945.75,169.5 952,171.5 958.25,172.5 965.75,171.25 972,172 979.5,174 987,175.75 992,174 995.75,171.5 999.5,173.25 1003.25,176.5 1008.25,175.75 1014.5,174.5 1022,175.75 1029.5,175 1037,176.25 1047,176.5 1057,177.25 1064.5,176.5 1070.75,175 1077,176.25 1087,176.5 1112,177 1122,176 1134.5,175.5 1147,175.25 1157,175 1164.5,176.25 1168,176.5" fill="none" stroke="#FF0000" stroke-width="3" stroke-linejoin="round"/>
<polyline points="656,299 722,299 727.25,297.75 731,294 734.75,286.5 738.5,276.5 741.5,272 744,272.75 747.25,277.75 751,275.25 754.75,269 758.5,256.5 761.75,252 764.75,261.5 768.5,276.5 772.25,284 777.25,288.5 782.25,290.25 787.25,287.75 792.25,286 798.5,287.25 806,286 811,287.75 818.5,292 824.75,295.25 831,295.75 836,294 841,292 846,291.5 848.5,287.75 852.25,280.25 858.5,269 862.25,261.5 864.75,251.5 866.5,241.5 868,234 870,212 871.5,196 873,190.5 874.5,194 877,202 878.5,215 880.75,234 883.25,264 885.75,276.5 889.5,274 893.25,271 897,272 902,276.5 908.25,282.75 912,281.5 915,279 918.25,281.5 922,285.25 929.5,287 938.25,289 944.5,290.25 950.75,289.5 959.5,293.5 967,291.5 973.25,292 979.5,294.75 985.75,295.25 992,292.25 995.75,292.75 999.5,294.75 1007,295.75 1022,294.25 1029.5,295.5 1039.5,294.75 1049.5,297 1057,295.25 1067,295.75 1077,296 1087,296.5 1094.5,295.25 1102,294 1109.5,296 1117,294.75 1124.5,294 1132,295.25 1140.75,294 1149.5,294.75 1157,296.5 1164.5,298.5 1168,299" fill="none" stroke="#FF0000" stroke-width="3" stroke-linejoin="round"/>
<polyline points="670,393.6 682.25,393.4 696,391.3 703.5,388 711,383.5 718.5,379.75 723.5,372.25 728.5,361 732.25,354.75 734,353 737.25,356 741,364.75 744,369.75 748.5,368 753.5,367.25 757.25,363.5 760.25,361.75 763.5,366 767.25,373.5 771,376.5 776,375.5 783.5,378.5 791,381 796,381 802.25,379 808.5,379.75 814.75,380.5 821,378 827.25,376 833.5,377.25 839.75,378 846,380.5 851,386 856,387.25 859.75,383.5 863.5,373.5 867.25,362.25 869.75,359 872.25,360.5 875.75,362.25 879.5,353.5 881.5,346 883.9,339.6 886,344.5 887.5,352 889,365 890.5,370 895,373 901.2,372.7 907.5,376.7 913.7,374.2 921.1,377.7 929.9,380.2 938.25,382.25 944.5,381.5 949.5,382.25 954.5,386 958.25,388.5 962,386 967,382.25 970.75,383.5 974.5,387.25 979.5,389 984.5,388 989.5,384.75 993.25,384 998.25,386.5 1003.25,389 1009.5,388.5 1017,389.25 1027,389.75 1037,389.75 1047,390.25 1057,389 1064.5,389.75 1072,388.5 1077,388 1082,389.75 1089.5,390.5 1099.5,389.75 1109.5,390.25 1122,390 1134.5,390.5 1147,389.25 1157,390.25 1164.5,391 1168,391.3" fill="none" stroke="#FF0000" stroke-width="3" stroke-linejoin="round"/>
</g>
<line x1="912.05" y1="16" x2="912.05" y2="393.5" stroke="#000" stroke-width="1.9" stroke-dasharray="7.9 4.57" stroke-dashoffset="1.9"/>
<rect x="658.6" y="16" width="506.9" height="377.5" fill="none" stroke="#000" stroke-width="3.05"/>
<line x1="690.29" y1="393.5" x2="690.29" y2="386.5" stroke="#000" stroke-width="2.2" />
<line x1="690.29" y1="16" x2="690.29" y2="23" stroke="#000" stroke-width="2.2" />
<line x1="721.97" y1="393.5" x2="721.97" y2="380" stroke="#000" stroke-width="2.2" />
<line x1="721.97" y1="16" x2="721.97" y2="29.5" stroke="#000" stroke-width="2.2" />
<line x1="753.65" y1="393.5" x2="753.65" y2="386.5" stroke="#000" stroke-width="2.2" />
<line x1="753.65" y1="16" x2="753.65" y2="23" stroke="#000" stroke-width="2.2" />
<line x1="785.33" y1="393.5" x2="785.33" y2="380" stroke="#000" stroke-width="2.2" />
<line x1="785.33" y1="16" x2="785.33" y2="29.5" stroke="#000" stroke-width="2.2" />
<line x1="817.01" y1="393.5" x2="817.01" y2="386.5" stroke="#000" stroke-width="2.2" />
<line x1="817.01" y1="16" x2="817.01" y2="23" stroke="#000" stroke-width="2.2" />
<line x1="848.69" y1="393.5" x2="848.69" y2="380" stroke="#000" stroke-width="2.2" />
<line x1="848.69" y1="16" x2="848.69" y2="29.5" stroke="#000" stroke-width="2.2" />
<line x1="880.37" y1="393.5" x2="880.37" y2="386.5" stroke="#000" stroke-width="2.2" />
<line x1="880.37" y1="16" x2="880.37" y2="23" stroke="#000" stroke-width="2.2" />
<line x1="912.05" y1="393.5" x2="912.05" y2="380" stroke="#000" stroke-width="2.2" />
<line x1="912.05" y1="16" x2="912.05" y2="29.5" stroke="#000" stroke-width="2.2" />
<line x1="943.73" y1="393.5" x2="943.73" y2="386.5" stroke="#000" stroke-width="2.2" />
<line x1="943.73" y1="16" x2="943.73" y2="23" stroke="#000" stroke-width="2.2" />
<line x1="975.41" y1="393.5" x2="975.41" y2="380" stroke="#000" stroke-width="2.2" />
<line x1="975.41" y1="16" x2="975.41" y2="29.5" stroke="#000" stroke-width="2.2" />
<line x1="1007.09" y1="393.5" x2="1007.09" y2="386.5" stroke="#000" stroke-width="2.2" />
<line x1="1007.09" y1="16" x2="1007.09" y2="23" stroke="#000" stroke-width="2.2" />
<line x1="1038.77" y1="393.5" x2="1038.77" y2="380" stroke="#000" stroke-width="2.2" />
<line x1="1038.77" y1="16" x2="1038.77" y2="29.5" stroke="#000" stroke-width="2.2" />
<line x1="1070.45" y1="393.5" x2="1070.45" y2="386.5" stroke="#000" stroke-width="2.2" />
<line x1="1070.45" y1="16" x2="1070.45" y2="23" stroke="#000" stroke-width="2.2" />
<line x1="1102.13" y1="393.5" x2="1102.13" y2="380" stroke="#000" stroke-width="2.2" />
<line x1="1102.13" y1="16" x2="1102.13" y2="29.5" stroke="#000" stroke-width="2.2" />
<line x1="1133.81" y1="393.5" x2="1133.81" y2="386.5" stroke="#000" stroke-width="2.2" />
<line x1="1133.81" y1="16" x2="1133.81" y2="23" stroke="#000" stroke-width="2.2" />
<text x="659.21" y="427.1" font-size="40.3" text-anchor="middle" style="letter-spacing:-0.9px" >-8</text>
<text x="722.57" y="427.1" font-size="40.3" text-anchor="middle" style="letter-spacing:-0.9px" >-6</text>
<text x="785.93" y="427.1" font-size="40.3" text-anchor="middle" style="letter-spacing:-0.9px" >-4</text>
<text x="849.29" y="427.1" font-size="40.3" text-anchor="middle" style="letter-spacing:-0.9px" >-2</text>
<text x="912.05" y="427.1" font-size="40.3" text-anchor="middle"  >0</text>
<text x="975.41" y="427.1" font-size="40.3" text-anchor="middle"  >2</text>
<text x="1038.77" y="427.1" font-size="40.3" text-anchor="middle"  >4</text>
<text x="1102.13" y="427.1" font-size="40.3" text-anchor="middle"  >6</text>
<text x="1165.49" y="427.1" font-size="40.3" text-anchor="middle"  >8</text>
<text transform="translate(623.5 32.4) scale(1 1.05)" font-size="44.3" style="font-weight:bold">b</text>
<text x="837.3" y="463" font-size="32" text-anchor="start"  >Energy (eV)</text>
<g transform="translate(646.2 310.6) rotate(-90)"><text x="0" y="0" font-size="33" style="word-spacing:-3px">DOS (Arb. units)</text></g>
<line x1="1047.6" y1="40.2" x2="1094.8" y2="40.2" stroke="#FF0000" stroke-width="4.6" />
<text x="1100.6" y="51.2" font-size="29.2" text-anchor="start"  >O</text>
<line x1="1047.6" y1="71.3" x2="1094.8" y2="71.3" stroke="#40E0D0" stroke-width="4.6" />
<text x="1100.6" y="82.3" font-size="29.2" text-anchor="start"  >Cu</text>
<line x1="1047.6" y1="101.7" x2="1094.8" y2="101.7" stroke="#BC8F8F" stroke-width="4.6" />
<text x="1098.6" y="112.5" font-size="29.2" text-anchor="start"  >Ag</text>
<line x1="1047.6" y1="134.3" x2="1094.8" y2="134.3" stroke="#FFA500" stroke-width="4.6" />
<text x="1098.6" y="145.1" font-size="29.2" text-anchor="start"  >Au</text>
<text transform="translate(921.3 105.1) scale(1.45 1.02)" font-size="30" style="font-style:italic">f</text>
<text x="934.5" y="116" font-size="25">−</text>
<text transform="translate(957.8 107.8) scale(1.22 1)" font-size="32">=</text>
<text x="923.3" y="150.8" font-size="29.2" text-anchor="start"  >0.65</text>
<text x="923.3" y="266.5" font-size="29.2" text-anchor="start"  >0.75</text>
<text x="923.3" y="360.2" font-size="29.2" text-anchor="start"  >0.66</text>
</g>
<g id="panel-c">
<clipPath id="clipc"><rect x="1224.8" y="17.6" width="509.9" height="379.6"/></clipPath>
<line x1="1224.8" y1="52" x2="1238.8" y2="52" stroke="#000" stroke-width="2.2" />
<line x1="1734.7" y1="52" x2="1720.7" y2="52" stroke="#000" stroke-width="2.2" />
<line x1="1224.8" y1="95.15" x2="1232.3" y2="95.15" stroke="#000" stroke-width="2.2" />
<line x1="1734.7" y1="95.15" x2="1727.2" y2="95.15" stroke="#000" stroke-width="2.2" />
<line x1="1224.8" y1="138.3" x2="1238.8" y2="138.3" stroke="#000" stroke-width="2.2" />
<line x1="1734.7" y1="138.3" x2="1720.7" y2="138.3" stroke="#000" stroke-width="2.2" />
<line x1="1224.8" y1="181.45" x2="1232.3" y2="181.45" stroke="#000" stroke-width="2.2" />
<line x1="1734.7" y1="181.45" x2="1727.2" y2="181.45" stroke="#000" stroke-width="2.2" />
<line x1="1224.8" y1="224.6" x2="1238.8" y2="224.6" stroke="#000" stroke-width="2.2" />
<line x1="1734.7" y1="224.6" x2="1720.7" y2="224.6" stroke="#000" stroke-width="2.2" />
<line x1="1224.8" y1="267.75" x2="1232.3" y2="267.75" stroke="#000" stroke-width="2.2" />
<line x1="1734.7" y1="267.75" x2="1727.2" y2="267.75" stroke="#000" stroke-width="2.2" />
<line x1="1224.8" y1="310.9" x2="1238.8" y2="310.9" stroke="#000" stroke-width="2.2" />
<line x1="1734.7" y1="310.9" x2="1720.7" y2="310.9" stroke="#000" stroke-width="2.2" />
<line x1="1224.8" y1="354.05" x2="1232.3" y2="354.05" stroke="#000" stroke-width="2.2" />
<line x1="1734.7" y1="354.05" x2="1727.2" y2="354.05" stroke="#000" stroke-width="2.2" />
<g clip-path="url(#clipc)">
<polygon points="1256.37,181.81 1266.43,181.51 1302.64,180.25 1327.79,178.24 1340.37,174.97 1346.66,171.95 1351.69,165.67 1355.46,158.13 1358.98,153.85 1363,153.1 1365.72,151.34 1368.03,146.81 1373.06,136.76 1376.84,129.22 1380.61,127.96 1383.12,128.71 1385.64,124.19 1387.15,117.05 1388.86,100.06 1391.37,80.05 1393.89,62.65 1396.4,52.59 1399.82,48.07 1402.64,56.41 1405.16,67.58 1407.67,77.63 1409.88,82.56 1412.1,75.12 1415.11,62.65 1417.63,57.62 1421.35,48.27 1423.87,32.68 1426.68,19.71 1430.1,22.73 1431.91,50.18 1433.93,82.56 1436.34,117.05 1437.65,132.03 1438.86,149.43 1440.16,161.9 1442.68,169.44 1446,173.97 1450.78,174.97 1455.81,173.21 1462.09,175.72 1469.64,176.98 1477.18,175.98 1484.73,177.48 1492.27,178.39 1502.33,177.28 1512.39,178.69 1527.48,178.09 1540.06,178.89 1552.63,179.09 1568.23,179.29 1618.53,179.29 1668.83,179.09 1736.23,179.29 1736.23,181.91" fill="#40E0D0"/>
<polygon points="1287.55,303.38 1290.57,302.78 1294.6,300.16 1297.61,295.14 1299.63,289.71 1302.24,280.05 1304.45,271 1307.27,256.92 1311.7,244.35 1316.23,238.32 1319.75,235.3 1323.77,236.31 1327.79,240.58 1330.31,236.81 1332.82,229.77 1336.6,214.69 1340.37,204.63 1344.14,202.12 1346.41,204.13 1349.17,207.65 1352.94,200.86 1357.97,196.59 1360.99,195.08 1364.26,188.29 1369.29,182.51 1372.56,181.51 1375.58,182.01 1379.35,184.02 1381.87,192.07 1384.38,207.15 1386.9,224.75 1388.15,236.81 1390.67,251.9 1393.18,277.04 1395.7,293.38 1398.21,299.66 1403.24,301.07 1417.33,300.16 1429.4,299.36 1439.46,299.96 1447.51,299.36 1464.61,300.46 1477.69,299.76 1487.75,299.56 1502.84,300.16 1517.93,299.96 1568.23,300.26 1618.53,300.06 1668.83,300.06 1719.13,300.36 1736.23,300.77 1736.23,302.78" fill="#BC8F8F"/>
<polygon points="1256.37,395.99 1277.49,394.69 1287.55,392.17 1298.87,390.92 1301.14,388.65 1302.64,384.63 1306.42,373.32 1310.19,367.54 1312.91,365.32 1316.23,368.04 1320.25,371.36 1324.78,370.05 1328.3,367.03 1332.32,361 1335.84,357.28 1340.87,356.88 1345.4,353.46 1349.17,347.42 1352.94,339.88 1356.72,332.34 1360.49,326.06 1363,324.3 1365.52,327.31 1370.55,338.63 1374.32,329.83 1378.09,323.54 1381.87,324.8 1385.64,333.6 1389.41,323.54 1393.18,315.25 1396.96,314.74 1400.73,321.03 1404.5,316 1408.27,310.97 1412.05,308.96 1414.56,310.22 1417.08,317.26 1419.59,326.06 1422.11,336.11 1424.62,347.42 1426.38,354.46 1428.39,362.01 1431.41,372.06 1434.68,382.12 1437.2,387.14 1439.71,389.66 1443.23,390.86 1449.52,392.12 1457.06,393.38 1464.61,392.88 1472.15,391.37 1477.18,390.36 1483.47,392.12 1489.76,393.38 1497.3,391.37 1504.85,390.36 1511.14,392.88 1517.93,393.68 1527.48,392.12 1536.04,393.68 1548.11,393.38 1557.66,392.12 1568.23,393.88 1618.53,393.88 1736.23,395.99 1736.23,397.7 1256.37,397.7" fill="#FFA500"/>
<polyline points="1223,181.5 1260,181.3 1277,179.5 1294.5,177 1300.75,173.25 1308,171.5 1311.75,168.25 1315.5,147 1319.25,127 1322.5,120.75 1325.5,128.25 1329.25,138.25 1333,147 1338,155.75 1343,163.25 1348,169.5 1351.75,172.5 1355.5,169 1359.75,165.75 1363,168.25 1366.75,172.5 1370.5,174.5 1376.75,174.5 1383,176.25 1390.5,175.25 1398,175 1405,175.2 1413,174 1419.25,175 1424.25,174 1430.5,176.25 1435.5,176.25 1439.25,174 1443,168.25 1448,159.5 1453,152 1456.25,145.75 1459.75,145 1462.5,150.75 1465.5,157 1469.25,160.75 1474.25,162.5 1479.25,162 1484.25,164.5 1488,163.25 1491.75,162.5 1494.25,165.75 1498,170.75 1501.75,162 1505.5,160.75 1508,165.75 1511.75,171.5 1516.75,168.25 1520.5,166.25 1524.25,169 1530.5,174 1535.5,172.5 1541.75,169.5 1549.25,169.5 1554.25,173.25 1559.25,177.5 1563,175 1566.75,170.75 1570.5,170.75 1574.25,175 1578,177.75 1583,176.25 1590.5,177 1599.25,175.75 1606.75,178.25 1614.25,179 1620.5,177.5 1626.75,179 1633,179.5 1641.75,176.5 1650.5,177 1663,177.75 1675.5,178.5 1688,179 1698,178.25 1708,177.75 1720.5,177 1733,177.5 1738,177.5" fill="none" stroke="#0000F0" stroke-width="3" stroke-linejoin="round"/>
<polyline points="1223,302 1285,302 1288.25,301 1292,294 1295.75,279 1299,272 1302.5,277 1305.75,278.5 1308,278.5 1311.75,278.5 1316.75,282.75 1323,286.5 1328,292 1333,295.25 1340.5,297.25 1348,296.5 1356.75,295.5 1365.5,296.5 1374.25,295.5 1383,297.25 1390.5,299.5 1398,300.25 1404.25,299 1409.25,298.25 1414.25,299 1419.25,295.25 1424.25,292 1428,292.75 1432.25,293.5 1435.5,289 1439.25,279 1443,274 1446.75,274.5 1449.25,271.5 1451.75,259 1455,241.5 1457.25,235.25 1459.75,242.75 1463,259 1466.75,271.5 1470.5,277.75 1474.25,277 1478,274.75 1481.75,277.75 1484.25,281 1486.75,278.5 1490,276.5 1493,281.5 1496.75,287.25 1499.25,286 1503,277.75 1506.75,280.25 1510.5,286.5 1514.25,290.25 1519.25,287.75 1523,286.5 1528,290.25 1533,293.5 1538,292 1544.25,291 1549.25,292 1554.25,295.25 1558,297.25 1561.75,294.75 1565.5,292 1569.25,294.75 1573,298 1580.5,297.75 1588,296.5 1594.25,295.75 1599.25,297.75 1604.25,299.5 1609.25,297.75 1613,297.25 1618,300.25 1621.75,300.25 1626.75,297.75 1631.75,297.25 1640.5,298.5 1650.5,299 1660.5,299 1670.5,298 1680.5,298.5 1688,296.5 1694.25,295.5 1700.5,297.75 1706.75,296.5 1713,295.25 1719.25,297 1725.5,300.25 1733,302 1738,302.3" fill="none" stroke="#0000F0" stroke-width="3" stroke-linejoin="round"/>
<polyline points="1240,396.5 1249.5,396.5 1257,392.25 1263.25,386 1268.25,379.75 1272,375.5 1275.75,374.75 1279.5,375.5 1282,371 1284.5,363.5 1287,356.5 1288.25,355.5 1290,359.75 1292,367.25 1294.5,376 1297,381 1300.75,384.25 1304.5,385.5 1308.25,383.5 1313,382.25 1319.25,386 1325.5,389 1330.5,390.5 1335.5,389 1343,390.5 1350.5,391.5 1358,391 1365.5,389.75 1373,390.5 1383,390.25 1393,389 1403,389.25 1410.5,389.75 1418,391.5 1424.25,392.25 1430.5,391 1435.5,389.75 1438.5,386 1441.75,379.75 1445,378 1448,379 1451,376 1453.75,367.25 1456.75,358.5 1460.5,359 1463,366 1466.75,373.5 1470.5,379 1475.5,378.5 1479.25,377.75 1483,380.5 1486.75,379.75 1490.5,377.75 1494.25,379.75 1497.25,382.75 1500.5,379 1504.25,376 1508,379.75 1511.75,384.75 1515.5,383.5 1519.25,382.25 1523,383 1528,388 1531.75,389.75 1535.5,388.5 1539.25,384.75 1542.25,383 1545.5,386 1550.5,390.5 1555.5,391.5 1560.5,388.5 1565.5,385.5 1570.5,386.5 1575.5,389.75 1580.5,388.5 1584.25,387.75 1590.5,389.25 1598,390.5 1606.75,390.5 1613,391.5 1620.5,391 1630.5,391.75 1638,390.5 1646.75,389.5 1654.25,391 1663,391.75 1673,391.75 1683,392.5 1693,393 1703,392.5 1713,392.25 1723,391.5 1728,392.25 1733,394.75 1738,395.5" fill="none" stroke="#0000F0" stroke-width="3" stroke-linejoin="round"/>
</g>
<line x1="1479.75" y1="17.6" x2="1479.75" y2="397.2" stroke="#000" stroke-width="1.9" stroke-dasharray="7.9 4.57" stroke-dashoffset="0"/>
<rect x="1224.8" y="17.6" width="509.9" height="379.6" fill="none" stroke="#000" stroke-width="3.05"/>
<line x1="1256.66" y1="397.2" x2="1256.66" y2="390.2" stroke="#000" stroke-width="2.2" />
<line x1="1256.66" y1="17.6" x2="1256.66" y2="24.6" stroke="#000" stroke-width="2.2" />
<line x1="1288.53" y1="397.2" x2="1288.53" y2="383.7" stroke="#000" stroke-width="2.2" />
<line x1="1288.53" y1="17.6" x2="1288.53" y2="31.1" stroke="#000" stroke-width="2.2" />
<line x1="1320.4" y1="397.2" x2="1320.4" y2="390.2" stroke="#000" stroke-width="2.2" />
<line x1="1320.4" y1="17.6" x2="1320.4" y2="24.6" stroke="#000" stroke-width="2.2" />
<line x1="1352.27" y1="397.2" x2="1352.27" y2="383.7" stroke="#000" stroke-width="2.2" />
<line x1="1352.27" y1="17.6" x2="1352.27" y2="31.1" stroke="#000" stroke-width="2.2" />
<line x1="1384.14" y1="397.2" x2="1384.14" y2="390.2" stroke="#000" stroke-width="2.2" />
<line x1="1384.14" y1="17.6" x2="1384.14" y2="24.6" stroke="#000" stroke-width="2.2" />
<line x1="1416.01" y1="397.2" x2="1416.01" y2="383.7" stroke="#000" stroke-width="2.2" />
<line x1="1416.01" y1="17.6" x2="1416.01" y2="31.1" stroke="#000" stroke-width="2.2" />
<line x1="1447.88" y1="397.2" x2="1447.88" y2="390.2" stroke="#000" stroke-width="2.2" />
<line x1="1447.88" y1="17.6" x2="1447.88" y2="24.6" stroke="#000" stroke-width="2.2" />
<line x1="1479.75" y1="397.2" x2="1479.75" y2="383.7" stroke="#000" stroke-width="2.2" />
<line x1="1479.75" y1="17.6" x2="1479.75" y2="31.1" stroke="#000" stroke-width="2.2" />
<line x1="1511.62" y1="397.2" x2="1511.62" y2="390.2" stroke="#000" stroke-width="2.2" />
<line x1="1511.62" y1="17.6" x2="1511.62" y2="24.6" stroke="#000" stroke-width="2.2" />
<line x1="1543.49" y1="397.2" x2="1543.49" y2="383.7" stroke="#000" stroke-width="2.2" />
<line x1="1543.49" y1="17.6" x2="1543.49" y2="31.1" stroke="#000" stroke-width="2.2" />
<line x1="1575.36" y1="397.2" x2="1575.36" y2="390.2" stroke="#000" stroke-width="2.2" />
<line x1="1575.36" y1="17.6" x2="1575.36" y2="24.6" stroke="#000" stroke-width="2.2" />
<line x1="1607.23" y1="397.2" x2="1607.23" y2="383.7" stroke="#000" stroke-width="2.2" />
<line x1="1607.23" y1="17.6" x2="1607.23" y2="31.1" stroke="#000" stroke-width="2.2" />
<line x1="1639.1" y1="397.2" x2="1639.1" y2="390.2" stroke="#000" stroke-width="2.2" />
<line x1="1639.1" y1="17.6" x2="1639.1" y2="24.6" stroke="#000" stroke-width="2.2" />
<line x1="1670.97" y1="397.2" x2="1670.97" y2="383.7" stroke="#000" stroke-width="2.2" />
<line x1="1670.97" y1="17.6" x2="1670.97" y2="31.1" stroke="#000" stroke-width="2.2" />
<line x1="1702.84" y1="397.2" x2="1702.84" y2="390.2" stroke="#000" stroke-width="2.2" />
<line x1="1702.84" y1="17.6" x2="1702.84" y2="24.6" stroke="#000" stroke-width="2.2" />
<text x="1225.39" y="430.8" font-size="40.3" text-anchor="middle" style="letter-spacing:-0.9px" >-8</text>
<text x="1289.13" y="430.8" font-size="40.3" text-anchor="middle" style="letter-spacing:-0.9px" >-6</text>
<text x="1352.87" y="430.8" font-size="40.3" text-anchor="middle" style="letter-spacing:-0.9px" >-4</text>
<text x="1416.61" y="430.8" font-size="40.3" text-anchor="middle" style="letter-spacing:-0.9px" >-2</text>
<text x="1479.75" y="430.8" font-size="40.3" text-anchor="middle"  >0</text>
<text x="1543.49" y="430.8" font-size="40.3" text-anchor="middle"  >2</text>
<text x="1607.23" y="430.8" font-size="40.3" text-anchor="middle"  >4</text>
<text x="1670.97" y="430.8" font-size="40.3" text-anchor="middle"  >6</text>
<text x="1734.71" y="430.8" font-size="40.3" text-anchor="middle"  >8</text>
<text transform="translate(1193.2 27) scale(1 1)" font-size="47" style="font-weight:bold">c</text>
<text x="1421" y="463.3" font-size="32.1" text-anchor="start"  >Energy (eV)</text>
<g transform="translate(1214.3 311.3) rotate(-90)"><text x="0" y="0" font-size="33" style="word-spacing:-3px">DOS (Arb. units)</text></g>
<line x1="1633.4" y1="54.6" x2="1681.2" y2="54.6" stroke="#0A3CFF" stroke-width="5" />
<text x="1685.2" y="64.7" font-size="33.5" text-anchor="start"  >N</text>
<text transform="translate(1490.3 102.1) scale(1.45 1.02)" font-size="30" style="font-style:italic">f</text>
<text x="1503.5" y="113" font-size="25">−</text>
<text transform="translate(1526.8 104.8) scale(1.22 1)" font-size="32">=</text>
<text x="1491.3" y="147.5" font-size="29.2" text-anchor="start"  >0.48</text>
<text x="1491.3" y="263" font-size="29.2" text-anchor="start"  >0.55</text>
<text x="1489.8" y="364.5" font-size="29.2" text-anchor="start"  >0.48</text>
<line x1="1713.5" y1="205" x2="1745" y2="205" stroke="#000" stroke-width="1.6" />
</g>
</svg></body></html>
